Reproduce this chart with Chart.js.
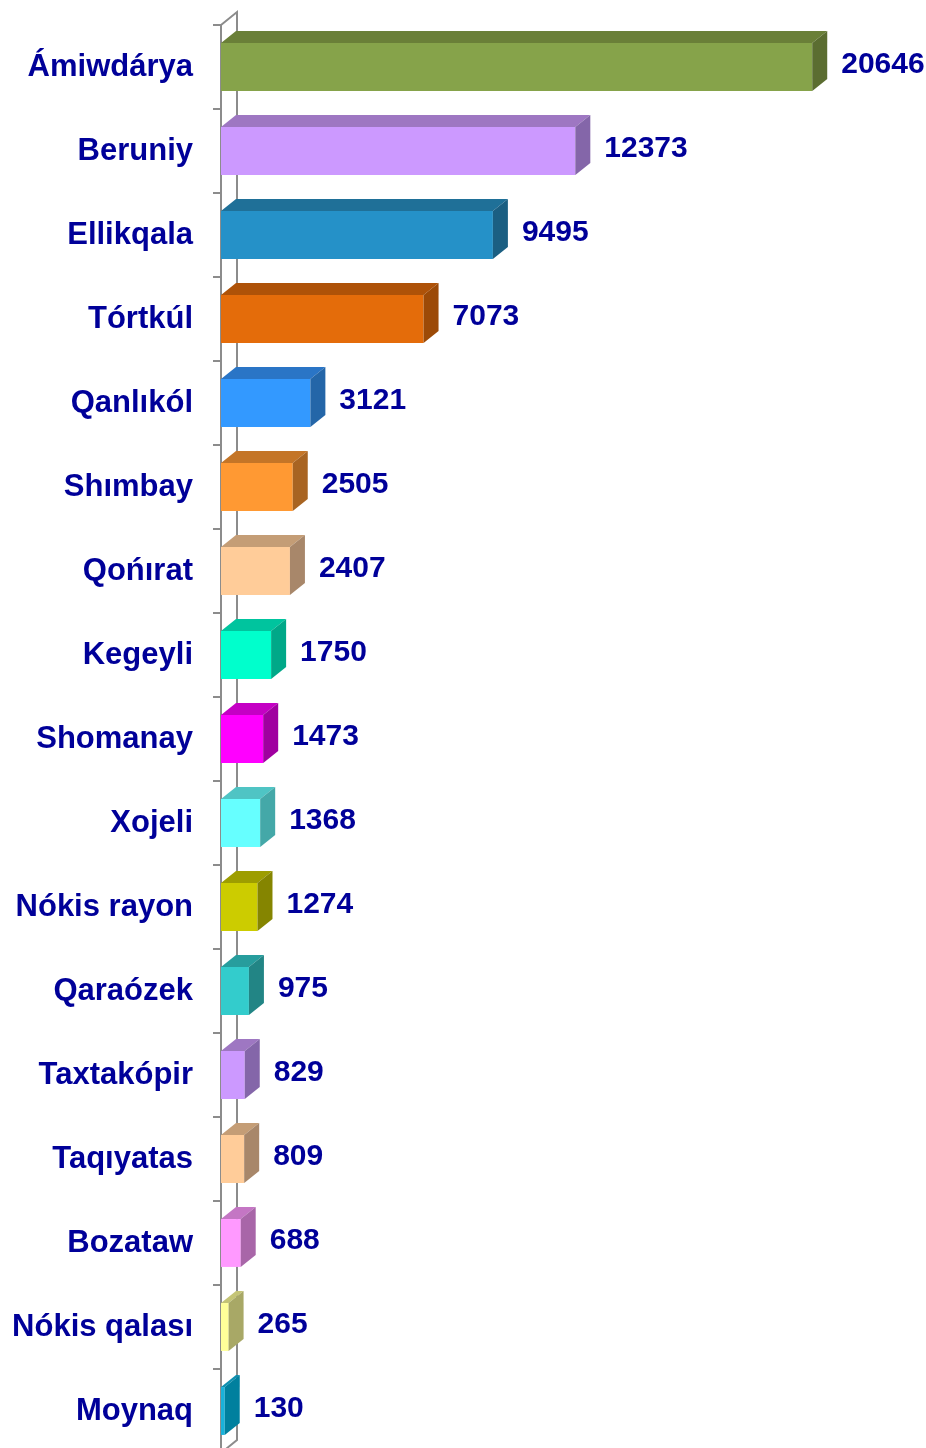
<!DOCTYPE html>
<html>
<head>
<meta charset="utf-8">
<script src="https://cdn.jsdelivr.net/npm/chart.js@4/dist/chart.umd.min.js"></script>
<style>
    html, body { margin: 0; padding: 0; background: #fff; overflow: hidden; }
    #wrap { width: 926px; height: 1460px; position: relative; }
</style>
</head>
<body>
<div id="wrap"><canvas id="chart" width="926" height="1460"></canvas></div>
<script>
const districts = ['Ámiwdárya', 'Beruniy', 'Ellikqala', 'Tórtkúl', 'Qanlıkól', 'Shımbay', 'Qońırat', 'Kegeyli',
    'Shomanay', 'Xojeli', 'Nókis rayon', 'Qaraózek', 'Taxtakópir', 'Taqıyatas', 'Bozataw', 'Nókis qalası', 'Moynaq'];
const counts = [20646, 12373, 9495, 7073, 3121, 2505, 2407, 1750, 1473, 1368, 1274, 975, 829, 809, 688, 265, 130];

const frontColors = ['#86A34A', '#CC99FF', '#2591C8', '#E46C0A', '#3399FF', '#FF9933', '#FFCC99', '#00FFCC',
    '#FF00FF', '#66FFFF', '#CCCC00', '#33CCCC', '#CC99FF', '#FFCC99', '#FF99FF', '#FFFF99', '#19B2DA'];
const topColors = ['#6A7F38', '#9E77C2', '#1F7098', '#AE5208', '#2A75C6', '#C47527', '#C49D76', '#00C49E',
    '#C400C4', '#4FC4C4', '#9D9D00', '#279D9D', '#9E77C2', '#C49D76', '#C476C4', '#C4C476', '#0E8FAF'];
const sideColors = ['#5B6D31', '#8466A9', '#1B5F82', '#9C4A07', '#2466A8', '#A86422', '#A8876A', '#00A888',
    '#A000A0', '#44A8A8', '#858500', '#228585', '#8466A9', '#A8876A', '#A866A8', '#A8A866', '#00809E'];

const DEPTH_X = 15;
const DEPTH_Y = 12;
const AXIS_GREY = '#8C8C8C';
const TEXT_BLUE = '#000099';

// back wall behind the bars
const wallPlugin = {
    id: 'wall',
    beforeDatasetsDraw(chart) {
        const { ctx, chartArea } = chart;
        const l = chartArea.left, t = chartArea.top, b = chartArea.bottom;
        ctx.save();
        ctx.strokeStyle = AXIS_GREY;
        ctx.lineWidth = 2;
        ctx.beginPath();
        ctx.moveTo(l, t);
        ctx.lineTo(l + DEPTH_X + 1, t - DEPTH_Y - 1);
        ctx.lineTo(l + DEPTH_X + 1, b - DEPTH_Y - 1);
        ctx.lineTo(l, b);
        ctx.stroke();
        ctx.restore();
    }
};

// top and side faces, then value labels
const boxPlugin = {
    id: 'box3d',
    afterDatasetsDraw(chart) {
        const { ctx } = chart;
        const meta = chart.getDatasetMeta(0);
        ctx.save();
        meta.data.forEach((bar, i) => {
            const h = bar.height;
            const top = bar.y - h / 2;
            const bottom = bar.y + h / 2;
            const x0 = bar.base;
            const x1 = bar.x;

            ctx.fillStyle = topColors[i];
            ctx.beginPath();
            ctx.moveTo(x0, top);
            ctx.lineTo(x1, top);
            ctx.lineTo(x1 + DEPTH_X, top - DEPTH_Y);
            ctx.lineTo(x0 + DEPTH_X, top - DEPTH_Y);
            ctx.closePath();
            ctx.fill();

            ctx.fillStyle = sideColors[i];
            ctx.beginPath();
            ctx.moveTo(x1, top);
            ctx.lineTo(x1 + DEPTH_X, top - DEPTH_Y);
            ctx.lineTo(x1 + DEPTH_X, bottom - DEPTH_Y);
            ctx.lineTo(x1, bottom);
            ctx.closePath();
            ctx.fill();

            ctx.fillStyle = TEXT_BLUE;
            ctx.font = 'bold 30px "Liberation Sans", Arial, sans-serif';
            ctx.textAlign = 'left';
            ctx.textBaseline = 'middle';
            ctx.fillText(String(counts[i]), x1 + DEPTH_X + 14, bar.y - 2);
        });
        ctx.restore();
    }
};

const ctx = document.querySelector('#chart').getContext('2d');
new Chart(ctx, {
    type: 'bar',
    data: {
        labels: districts,
        datasets: [{
            data: counts,
            backgroundColor: frontColors,
            borderWidth: 0,
            categoryPercentage: 1,
            barPercentage: 0.57,
        }],
    },
    options: {
        indexAxis: 'y',
        responsive: false,
        animation: false,
        maintainAspectRatio: false,
        layout: { padding: { top: 25, bottom: 7, right: 75, left: 0 } },
        plugins: {
            legend: { display: false },
            tooltip: { enabled: false },
        },
        scales: {
            x: {
                display: false,
                min: 0,
                max: 22000,
            },
            y: {
                afterFit(scale) {
                    scale.width = 221;
                    scale.paddingTop = 0;
                    scale.paddingBottom = 0;
                },
                border: { display: true, color: AXIS_GREY, width: 2 },
                grid: {
                    offset: true,
                    drawOnChartArea: false,
                    drawTicks: true,
                    tickLength: 8,
                    color: AXIS_GREY,
                    lineWidth: 2,
                },
                ticks: {
                    autoSkip: false,
                    color: TEXT_BLUE,
                    padding: 20,
                    font: { family: '"Liberation Sans", Arial, sans-serif', size: 31, weight: 'bold' },
                },
            },
        },
    },
    plugins: [wallPlugin, boxPlugin],
});
</script>
</body>
</html>
